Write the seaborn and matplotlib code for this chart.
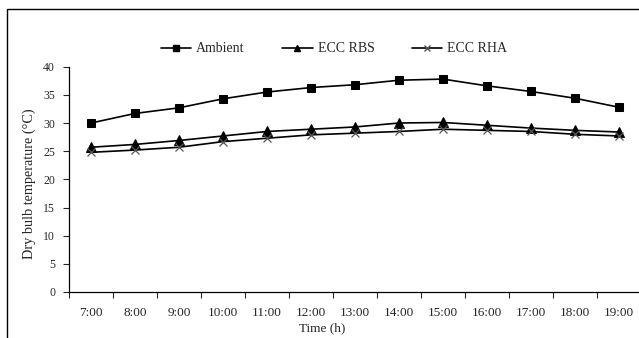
import pandas as pd
import matplotlib.pyplot as plt
import matplotlib.patches as mpatches
import seaborn as sns

# Datos
horas = ["7:00", "8:00", "9:00", "10:00", "11:00", "12:00", "13:00",
         "14:00", "15:00", "16:00", "17:00", "18:00", "19:00"]
ambient = [30.0, 31.7, 32.7, 34.3, 35.5, 36.3, 36.8, 37.6, 37.8, 36.6, 35.6, 34.4, 32.8]
ecc_rbs = [25.7, 26.2, 26.9, 27.7, 28.5, 28.9, 29.3, 30.0, 30.1, 29.6, 29.1, 28.7, 28.4]
ecc_rha = [24.8, 25.2, 25.7, 26.7, 27.3, 27.9, 28.2, 28.5, 28.9, 28.7, 28.5, 28.0, 27.7]
series = ["Ambient", "ECC RBS", "ECC RHA"]

df = pd.DataFrame({"hora": horas, "Ambient": ambient,
                   "ECC RBS": ecc_rbs, "ECC RHA": ecc_rha})

sns.set_style("white")
plt.rcParams["font.family"] = ["Liberation Serif", "DejaVu Serif"]

fig = plt.figure(figsize=(6.39, 3.38), dpi=100)
ax = fig.add_axes([69 / 639, 1 - 292 / 338, 572 / 639, (292 - 66.7) / 338])

# marco exterior del grafico
fig.patches.append(mpatches.Rectangle((7 / 639, -0.1), 1.2, 1.1 - 9 / 338,
                                      transform=fig.transFigure, fill=False,
                                      edgecolor="black", linewidth=1.0))

estilos = {
    "Ambient": dict(marker="s", markersize=6, markeredgecolor="black"),
    "ECC RBS": dict(marker="^", markersize=7, markeredgecolor="black"),
    "ECC RHA": dict(marker="x", markersize=6, markeredgecolor="#555555", markeredgewidth=0.9),
}
for s in series:
    sns.lineplot(data=df, x="hora", y=s, color="black", sort=False,
                 linewidth=1.2, ax=ax, **estilos[s])

ax.set_ylim(0, 40)
ax.set_yticks(range(0, 41, 5))
ax.set_xlim(-0.5, 12.5)
ax.set_xticks(range(len(horas)))
ax.set_xticklabels(horas)
ax.set_xticks([i - 0.5 for i in range(len(horas) + 1)], minor=True)
ax.tick_params(axis="x", which="major", bottom=False, length=0, pad=11, labelsize=9.5)
ax.tick_params(axis="x", which="minor", bottom=True, length=4, direction="out", width=0.8)
ax.tick_params(axis="y", left=True, length=4, direction="out", width=0.8, labelsize=8.5, pad=6)

for s in ["top", "right"]:
    ax.spines[s].set_visible(False)
for s in ["left", "bottom"]:
    ax.spines[s].set_linewidth(0.9)
    ax.spines[s].set_color("black")

ax.set_xlabel("Time (h)", fontsize=9.5)
ax.xaxis.set_label_coords((322 - 69) / 572, -(328 - 292) / 225.3)
ax.xaxis.label.set_va("center")
ax.set_ylabel("Dry bulb temperature (°C)", fontsize=10.3)
ax.yaxis.set_label_coords(-(69 - 29) / 572, (292 - 184) / 225.3)
ax.yaxis.label.set_va("center")

# leyenda
handles = [plt.Line2D([], [], color="black", marker="s", markersize=5, linewidth=1.2),
           plt.Line2D([], [], color="black", marker="^", markersize=5, linewidth=1.2),
           plt.Line2D([], [], color="black", marker="x", markersize=5, linewidth=1.2,
                      markeredgecolor="#555555")]
fig.legend(handles, series, loc="center", bbox_to_anchor=(334 / 639, 1 - 49 / 338),
           ncol=3, frameon=False, fontsize=10, handlelength=2.2, handletextpad=0.35,
           columnspacing=2.7)

plt.savefig("out.png", dpi=100)
